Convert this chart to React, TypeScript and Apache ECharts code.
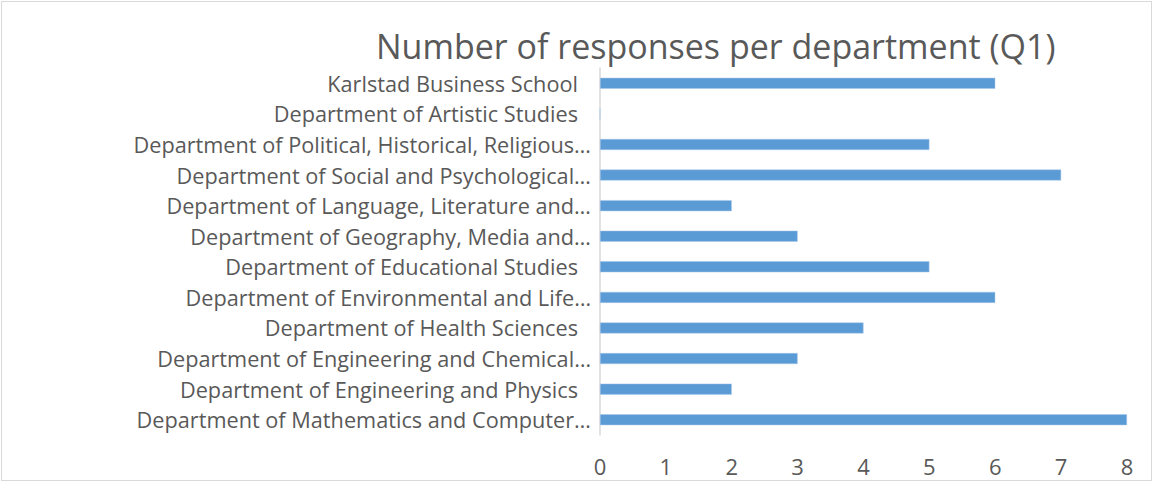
import React, { useEffect, useRef } from "react";
import * as echarts from "echarts";

const titleText = "Number of responses per department (Q1)";
// bottom to top
const categories = [
  "Department of Mathematics and Computer…",
  "Department of Engineering and Physics",
  "Department of Engineering and Chemical…",
  "Department of Health Sciences",
  "Department of Environmental and Life…",
  "Department of Educational Studies",
  "Department of Geography, Media and…",
  "Department of Language, Literature and…",
  "Department of Social and Psychological…",
  "Department of Political, Historical, Religious…",
  "Department of Artistic Studies",
  "Karlstad Business School",
];
const responses = [8, 2, 3, 4, 6, 5, 3, 2, 7, 5, 0, 6];
const xTicks = [0, 1, 2, 3, 4, 5, 6, 7, 8];

export default function App() {
  const ref = useRef<HTMLDivElement>(null);
  useEffect(() => {
    if (!ref.current) return;
    const chart = echarts.init(ref.current, null, { renderer: "svg" });
    const font = "Open Sans";
    chart.setOption({
      animation: false,
      title: {
        text: titleText,
        left: 376,
        top: 30,
        padding: 0,
        textStyle: {
          fontFamily: font,
          fontSize: 34,
          lineHeight: 32,
          fontWeight: "normal",
          color: "#595959",
        },
      },
      grid: { left: 600, right: 27, top: 68, bottom: 48 },
      xAxis: {
        type: "value",
        min: xTicks[0],
        max: xTicks[xTicks.length - 1],
        interval: 1,
        axisLine: { show: false },
        axisTick: { show: false },
        splitLine: { show: false },
        axisLabel: { fontFamily: font, fontSize: 22, color: "#595959", margin: 20 },
      },
      yAxis: {
        type: "category",
        data: categories,
        axisLine: { show: true, lineStyle: { color: "#d9d9d9", width: 1.5 } },
        axisTick: { show: false },
        axisLabel: {
          fontFamily: font,
          fontSize: 21.7,
          color: "#595959",
          margin: 9,
          formatter: (v: string) => (v.endsWith("…") ? `{a|${v}}` : `{b|${v}}`),
          rich: {
            a: { fontFamily: font, fontSize: 21.7, lineHeight: 22, color: "#595959" },
            b: { fontFamily: font, fontSize: 21.7, lineHeight: 22, color: "#595959", padding: [0, 13, 0, 0] },
          },
        },
      },
      series: [
        {
          type: "bar",
          data: responses,
          barWidth: 11,
          itemStyle: { color: "#5b9bd5", borderColor: "#a9c8ea", borderWidth: 0.5 },
        },
      ],
    });
    return () => chart.dispose();
  }, []);
  return (
    <div
      style={{
        position: "fixed",
        left: 0,
        top: 0,
        width: 1154,
        height: 483,
        background: "#fff",
      }}
    >
      <div
        style={{
          position: "absolute",
          left: 1,
          top: 1,
          width: 1151,
          height: 480,
          border: "1px solid #d9d9d9",
          boxSizing: "border-box",
        }}
      />
      <div ref={ref} style={{ position: "absolute", left: 0, top: 0, width: 1154, height: 483 }} />
    </div>
  );
}
